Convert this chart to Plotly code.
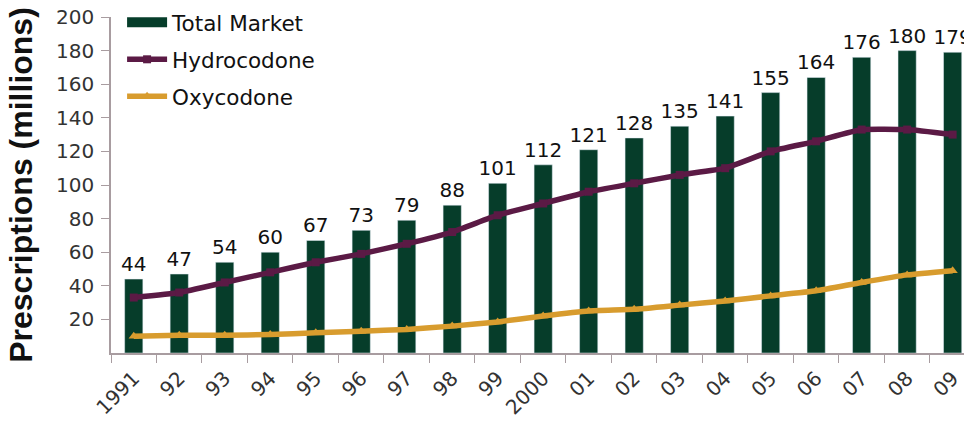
import plotly.graph_objects as go

years = ["1991", "92", "93", "94", "95", "96", "97", "98", "99", "2000",
         "01", "02", "03", "04", "05", "06", "07", "08", "09"]
total_market = [44, 47, 54, 60, 67, 73, 79, 88, 101, 112, 121, 128, 135, 141, 155, 164, 176, 180, 179]
hydrocodone = [33, 36, 42, 48, 54, 59, 65, 72, 82, 89, 96, 101, 106, 110, 120, 126, 133, 133, 130]
oxycodone = [10, 10.5, 10.5, 11, 12, 13, 14, 16, 18.5, 22, 25, 26, 28.5, 31, 34, 37, 42, 46.5, 49]
y_ticks = [20, 40, 60, 80, 100, 120, 140, 160, 180, 200]

FONT = "DejaVu Sans, Verdana, sans-serif"
GREEN = "#063d2a"
PURPLE = "#5b1a45"
GOLD = "#d89c2e"
AXIS = "#a89ca0"

fig = go.Figure()
fig.add_trace(go.Bar(
    x=years, y=total_market, name="Total Market", showlegend=False,
    legendgroup="tm",
    marker=dict(color=GREEN), width=0.4,
    text=[str(v) for v in total_market], textposition="outside",
    constraintext="none",
    textfont=dict(size=20, color="#111111", family=FONT),
    cliponaxis=False,
))
# legend entry for the bars (wide swatch like the original)
fig.add_trace(go.Scatter(
    x=[None], y=[None], name="Total Market", mode="lines", legendgroup="tm",
    line=dict(color=GREEN, width=11),
))
fig.add_trace(go.Scatter(
    x=years, y=hydrocodone, name="Hydrocodone", mode="lines+markers",
    legendgroup="hy",
    line=dict(color=PURPLE, width=5.5, shape="spline", smoothing=0.4),
    marker=dict(symbol="square", size=8, color=PURPLE),
))
fig.add_trace(go.Scatter(
    x=years, y=oxycodone, name="Oxycodone", mode="lines+markers",
    legendgroup="ox",
    line=dict(color=GOLD, width=5.5, shape="spline", smoothing=0.4),
    marker=dict(symbol="triangle-up", size=9, color=GOLD),
))

fig.update_layout(
    width=964, height=422,
    margin=dict(l=111, r=0, t=17, b=69),
    paper_bgcolor="white", plot_bgcolor="white",
    font=dict(family=FONT, color="#222222"),
    showlegend=True,
    legend=dict(x=0.013, y=1.045, xanchor="left", yanchor="top",
                font=dict(size=21.5, color="#111111", family=FONT),
                bgcolor="rgba(0,0,0,0)", traceorder="grouped",
                tracegroupgap=6, itemwidth=40),
    xaxis=dict(
        type="category", range=[-0.5, 18.25],
        showline=True, linecolor=AXIS, linewidth=1.5,
        ticks="outside", tickson="boundaries", ticklen=8, tickcolor=AXIS,
        tickangle=-45, tickfont=dict(size=20, color="#333333"),
        ticklabelstandoff=4,
        showgrid=False, automargin=False,
    ),
    yaxis=dict(
        range=[0, 200], tickvals=y_ticks,
        showline=True, linecolor=AXIS, linewidth=1.5,
        ticks="outside", ticklen=8, tickcolor=AXIS,
        tickfont=dict(size=20, color="#333333"),
        ticklabelstandoff=3,
        showgrid=False, zeroline=False, automargin=False,
        title=dict(text="<b>Prescriptions (millions)</b>",
                   font=dict(size=32, color="#111111",
                             family="Liberation Sans, Arial, sans-serif"),
                   standoff=14),
    ),
)

fig.write_html("out.html", config={"displayModeBar": False},
               post_script="document.body.style.margin='0px';")
